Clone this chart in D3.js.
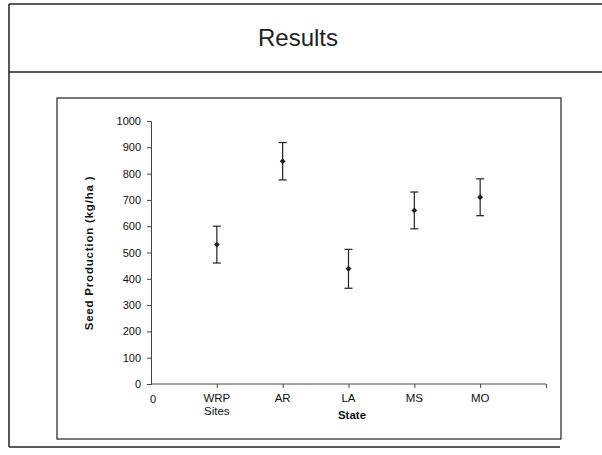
<!DOCTYPE html>
<html><head><meta charset="utf-8">
<script src="https://cdn.jsdelivr.net/npm/d3@7"></script>
<style>body{margin:0;background:#fff}svg{display:block;font-family:"Liberation Sans",Arial,sans-serif}</style>
</head><body>
<svg id="c" width="602" height="455"></svg>
<script>
const categories = ["WRP Sites", "AR", "LA", "MS", "MO"];
const means = [530, 847, 438, 660, 710];
const errors = [70, 71, 74, 70, 70];
const yTicks = [0, 100, 200, 300, 400, 500, 600, 700, 800, 900, 1000];

const svg = d3.select("#c");
// slide frame
svg.append("line").attr("x1",9).attr("x2",602).attr("y1",4).attr("y2",4).attr("stroke","#222").attr("stroke-width",1.5);
svg.append("line").attr("x1",9).attr("x2",602).attr("y1",72).attr("y2",72).attr("stroke","#222").attr("stroke-width",1.5);
svg.append("line").attr("x1",9).attr("x2",9).attr("y1",4).attr("y2",447).attr("stroke","#222").attr("stroke-width",1.5);
svg.append("line").attr("x1",9).attr("x2",560).attr("y1",447).attr("y2",447).attr("stroke","#222").attr("stroke-width",1.5);
svg.append("text").attr("x",298).attr("y",46).attr("text-anchor","middle").attr("font-size",24).attr("fill","#222").text("Results");

// chart box
svg.append("rect").attr("x",57).attr("y",98).attr("width",504).attr("height",341).attr("fill","none").attr("stroke","#222").attr("stroke-width",1.2);

const x = d3.scaleLinear().domain([0,6]).range([151,546]);
const y = d3.scaleLinear().domain([0,1000]).range([384,121]);

const gy = svg.append("g").attr("transform","translate(151,0)")
  .call(d3.axisLeft(y).tickValues(yTicks).tickFormat(d3.format("d")).tickSize(4).tickPadding(6));
gy.selectAll("text").attr("font-size",11).attr("fill","#111").attr("font-family","Liberation Sans, Arial, sans-serif");
gy.selectAll("line,path").attr("stroke","#444");

const gx = svg.append("g").attr("transform","translate(0,384)")
  .call(d3.axisBottom(x).tickValues([1,2,3,4,5,6]).tickSize(4).tickFormat(""));
gx.selectAll("line,path").attr("stroke","#444");
gx.select(".domain").attr("d", `M${x(0)},0H${x(6)}`);

// x labels
svg.append("text").attr("x",x(0)+2).attr("y",403).attr("text-anchor","middle").attr("font-size",11).attr("fill","#111").text("0");
categories.forEach((c,i)=>{
  const parts = c.split(" ");
  const t = svg.append("text").attr("x",x(i+1)).attr("y",402).attr("text-anchor","middle").attr("font-size",11.5).attr("fill","#111");
  parts.forEach((p,j)=>t.append("tspan").attr("x",x(i+1)).attr("dy",j?13:0).text(p));
});
svg.append("text").attr("x",352).attr("y",419).attr("text-anchor","middle").attr("font-size",11.5).attr("font-weight","bold").attr("fill","#111").text("State");
svg.append("text").attr("transform","translate(93,253) rotate(-90)").attr("text-anchor","middle").attr("font-size",11.5).attr("letter-spacing",0.8).attr("font-weight","bold").attr("fill","#111").text("Seed Production (kg/ha )");

// error bars
const g = svg.append("g");
means.forEach((m,i)=>{
  const cx = x(i+1);
  g.append("line").attr("x1",cx).attr("x2",cx).attr("y1",y(m-errors[i])).attr("y2",y(m+errors[i])).attr("stroke","#222").attr("stroke-width",1.2);
  [m-errors[i], m+errors[i]].forEach(v=>g.append("line").attr("x1",cx-4).attr("x2",cx+4).attr("y1",y(v)).attr("y2",y(v)).attr("stroke","#222").attr("stroke-width",1.2));
  g.append("path").attr("d",d3.symbol(d3.symbolDiamond2,22)()).attr("transform",`translate(${cx},${y(m)})`).attr("fill","#222");
});
</script>
</body></html>
